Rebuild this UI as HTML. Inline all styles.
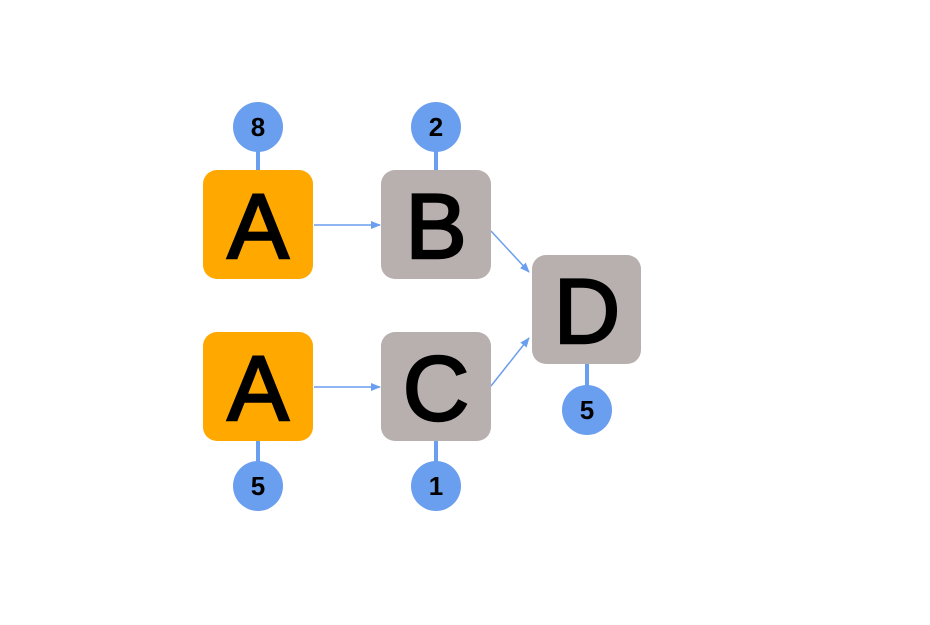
<!DOCTYPE html>
<html><head><style>
html,body{margin:0;padding:0;background:#fff;}
</style></head><body>
<svg width="930" height="620" viewBox="0 0 930 620" xmlns="http://www.w3.org/2000/svg" font-family="Liberation Sans, sans-serif">
<defs>
<marker id="ar" markerWidth="10" markerHeight="10" refX="9" refY="5" orient="auto" markerUnits="userSpaceOnUse">
<path d="M0,1 L10,5 L0,9 Z" fill="#6A9EEE"/>
</marker>
</defs>
<g stroke="#6A9EEE" stroke-width="4">
<line x1="258" y1="150" x2="258" y2="172"/>
<line x1="436" y1="150" x2="436" y2="172"/>
<line x1="258" y1="440" x2="258" y2="462"/>
<line x1="436" y1="440" x2="436" y2="462"/>
<line x1="587" y1="363" x2="587" y2="386"/>
</g>
<g stroke="#6A9EEE" stroke-width="1.5" fill="none" marker-end="url(#ar)">
<line x1="314" y1="225" x2="380" y2="225"/>
<line x1="314" y1="387" x2="380" y2="387"/>
<line x1="491" y1="231" x2="529" y2="272"/>
<line x1="491" y1="386" x2="529" y2="338"/>
</g>
<rect x="203" y="170" width="110" height="109" rx="14" fill="#FFA800"/>
<rect x="203" y="332" width="110" height="109" rx="14" fill="#FFA800"/>
<rect x="381" y="170" width="110" height="109" rx="14" fill="#B8B0AF"/>
<rect x="381" y="332" width="110" height="109" rx="14" fill="#B8B0AF"/>
<rect x="532" y="255" width="109" height="109" rx="14" fill="#B8B0AF"/>
<g font-size="92" text-anchor="middle" fill="#000" stroke="#000" stroke-width="2.5">
<text x="258" y="258">A</text>
<text x="258" y="420">A</text>
<text x="436" y="258">B</text>
<text x="436" y="420">C</text>
<text x="587" y="343">D</text>
</g>
<g fill="#6A9EEE">
<circle cx="258" cy="127" r="25"/>
<circle cx="436" cy="127" r="25"/>
<circle cx="258" cy="486" r="25"/>
<circle cx="436" cy="486" r="25"/>
<circle cx="587" cy="410" r="25"/>
</g>
<g font-size="26" font-weight="bold" text-anchor="middle" fill="#000">
<text x="258" y="136">8</text>
<text x="436" y="136">2</text>
<text x="258" y="495">5</text>
<text x="436" y="495">1</text>
<text x="587" y="419">5</text>
</g>
</svg>
</body></html>
